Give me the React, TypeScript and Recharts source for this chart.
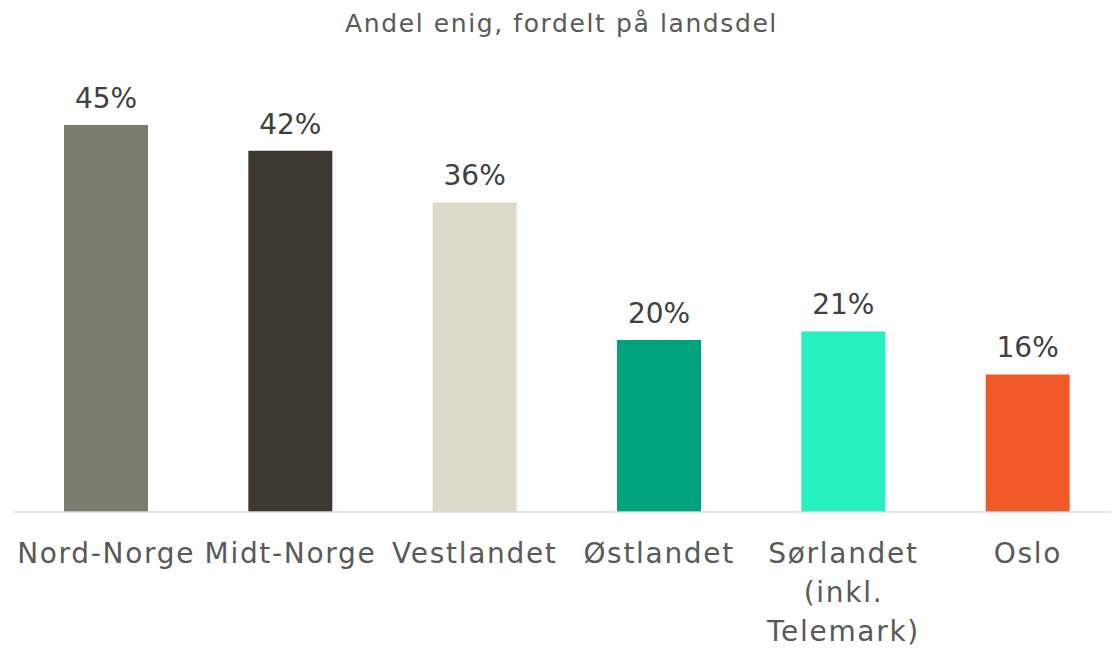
import { BarChart, Bar, XAxis, YAxis, Cell, LabelList } from 'recharts'

const regions = ['Nord-Norge', 'Midt-Norge', 'Vestlandet', 'Østlandet', 'Sørlandet (inkl. Telemark)', 'Oslo']
const tickLines: string[][] = [['Nord-Norge'], ['Midt-Norge'], ['Vestlandet'], ['Østlandet'], ['Sørlandet', '(inkl.', 'Telemark)'], ['Oslo']]
const shares = [45, 42, 36, 20, 21, 16]
const colors = ['#787B6B', '#3C3930', '#DDDACB', '#00A37B', '#24F0C0', '#F05A28']

const data = regions.map((r, i) => ({ region: r, share: shares[i] }))

const FONT = '"DejaVu Sans", sans-serif'

function RegionTick(props: any) {
  const { x, y, payload } = props
  const lines = tickLines[payload.index] ?? [payload.value]
  return (
    <g transform={`translate(${x},${y})`}>
      {lines.map((l, i) => (
        <text key={i} x={0} y={43 + i * 39} textAnchor="middle"
          style={{ fontSize: 28, fontFamily: FONT, fill: '#595959', letterSpacing: 1.7 }}>{l}</text>
      ))}
    </g>
  )
}

export default function App() {
  return (
    <div style={{ position: 'absolute', left: 0, top: 0, width: 1111, height: 648, overflow: 'hidden', background: '#fff' }}>
      <div style={{ position: 'absolute', left: 6, top: 9, width: 1111, textAlign: 'center', fontFamily: FONT, fontSize: 25, letterSpacing: 1.6, color: '#595959' }}>
        Andel enig, fordelt på landsdel
      </div>
      <BarChart width={1120} height={648} data={data} margin={{ top: 82, right: 0, left: 14, bottom: 0 }}>
        <XAxis dataKey="region" height={136} interval={0} tickLine={false}
          axisLine={{ stroke: '#D9D9D9', strokeWidth: 1.5 }} tick={<RegionTick />} />
        <YAxis hide domain={[0, 50]} />
        <Bar dataKey="share" barSize={84} isAnimationActive={false}>
          {data.map((d, i) => <Cell key={d.region} fill={colors[i]} />)}
          <LabelList dataKey="share" position="top" offset={17}
            formatter={(v: any) => `${v}%`}
            style={{ fontSize: 28, fontFamily: FONT, fill: '#404040' }} />
        </Bar>
      </BarChart>
    </div>
  )
}
